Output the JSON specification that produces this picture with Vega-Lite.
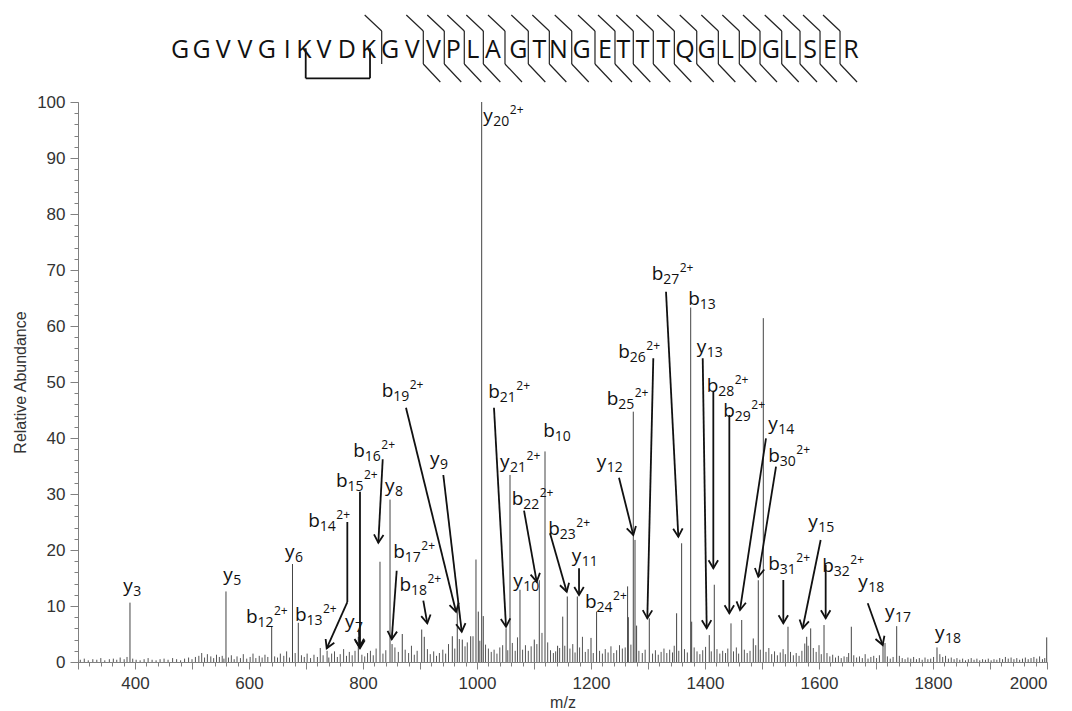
{
"$schema":"https://vega.github.io/schema/vega-lite/v6.json",
"width":969,"height":560,
"autosize":{"type":"none"},
"padding":{"left":78,"top":102,"right":25,"bottom":49},
"background":"white",
"config":{"view":{"stroke":null},"axis":{"grid":false,"domainColor":"#808080","tickColor":"#808080","labelColor":"#333333","labelFont":"Liberation Sans","labelFontSize":17,"titleFont":"Liberation Sans","titleFontSize":16,"titleFontWeight":"normal","titleColor":"#333333"}},
"datasets":{
"noise":[{"m":304,"a":0.4},{"m":311,"a":0.6},{"m":318,"a":0.3},{"m":326,"a":0.5},{"m":333,"a":0.4},{"m":340,"a":0.7},{"m":347,"a":0.3},{"m":355,"a":0.5},{"m":362,"a":0.6},{"m":368,"a":0.4},{"m":374,"a":0.8},{"m":381,"a":0.5},{"m":386,"a":0.9},{"m":396,"a":0.6},{"m":402,"a":0.4},{"m":409,"a":0.3},{"m":416,"a":0.5},{"m":423,"a":0.7},{"m":430,"a":0.4},{"m":437,"a":0.3},{"m":444,"a":0.5},{"m":451,"a":0.6},{"m":458,"a":0.4},{"m":466,"a":0.7},{"m":473,"a":0.5},{"m":480,"a":0.3},{"m":487,"a":0.6},{"m":494,"a":0.8},{"m":500,"a":0.5},{"m":506,"a":0.9},{"m":512,"a":1.1},{"m":517,"a":1.6},{"m":522,"a":0.8},{"m":527,"a":1.4},{"m":533,"a":1.0},{"m":538,"a":0.7},{"m":543,"a":1.3},{"m":548,"a":0.9},{"m":553,"a":1.1},{"m":556,"a":0.6},{"m":564,"a":0.8},{"m":569,"a":1.2},{"m":574,"a":0.5},{"m":579,"a":1.0},{"m":585,"a":0.7},{"m":590,"a":1.4},{"m":596,"a":0.6},{"m":602,"a":0.9},{"m":607,"a":1.5},{"m":612,"a":0.7},{"m":618,"a":1.1},{"m":623,"a":0.8},{"m":628,"a":1.3},{"m":633,"a":0.9},{"m":645,"a":1.0},{"m":650,"a":0.8},{"m":655,"a":1.5},{"m":661,"a":1.1},{"m":666,"a":1.9},{"m":671,"a":0.8},{"m":681,"a":1.6},{"m":692,"a":1.2},{"m":697,"a":0.9},{"m":702,"a":1.5},{"m":708,"a":0.7},{"m":714,"a":1.3},{"m":720,"a":0.9},{"m":725,"a":2.5},{"m":730,"a":1.2},{"m":737,"a":2.0},{"m":740,"a":0.8},{"m":745,"a":1.5},{"m":750,"a":1.9},{"m":755,"a":0.9},{"m":760,"a":1.4},{"m":766,"a":2.3},{"m":771,"a":1.1},{"m":776,"a":1.8},{"m":781,"a":1.2},{"m":786,"a":2.0},{"m":798,"a":1.3},{"m":803,"a":1.0},{"m":808,"a":1.6},{"m":813,"a":2.0},{"m":818,"a":1.2},{"m":823,"a":2.4},{"m":835,"a":1.5},{"m":840,"a":2.1},{"m":856,"a":2.6},{"m":862,"a":1.8},{"m":874,"a":2.2},{"m":880,"a":1.6},{"m":885,"a":2.9},{"m":890,"a":1.3},{"m":895,"a":2.0},{"m":913,"a":2.3},{"m":918,"a":1.4},{"m":924,"a":1.9},{"m":929,"a":1.1},{"m":934,"a":1.6},{"m":940,"a":2.2},{"m":945,"a":1.5},{"m":950,"a":3.2},{"m":961,"a":2.4},{"m":969,"a":4.1},{"m":979,"a":2.8},{"m":983,"a":3.5},{"m":993,"a":4.6},{"m":1005,"a":3.8},{"m":1015,"a":3.1},{"m":1020,"a":2.4},{"m":1025,"a":1.8},{"m":1030,"a":2.2},{"m":1035,"a":1.5},{"m":1040,"a":2.6},{"m":1045,"a":3.0},{"m":1054,"a":2.1},{"m":1062,"a":3.4},{"m":1067,"a":2.0},{"m":1071,"a":4.4},{"m":1080,"a":2.2},{"m":1085,"a":3.0},{"m":1090,"a":2.0},{"m":1095,"a":2.8},{"m":1105,"a":3.2},{"m":1114,"a":5.2},{"m":1124,"a":3.5},{"m":1129,"a":2.1},{"m":1134,"a":1.6},{"m":1138,"a":1.9},{"m":1145,"a":2.5},{"m":1154,"a":2.9},{"m":1163,"a":2.4},{"m":1168,"a":3.2},{"m":1172,"a":1.7},{"m":1180,"a":2.6},{"m":1185,"a":4.5},{"m":1190,"a":1.8},{"m":1195,"a":2.3},{"m":1204,"a":1.6},{"m":1215,"a":2.0},{"m":1220,"a":1.5},{"m":1225,"a":2.3},{"m":1230,"a":1.7},{"m":1235,"a":2.8},{"m":1240,"a":1.6},{"m":1245,"a":2.1},{"m":1250,"a":3.0},{"m":1255,"a":2.4},{"m":1260,"a":2.6},{"m":1270,"a":3.1},{"m":1284,"a":2.0},{"m":1290,"a":1.6},{"m":1295,"a":2.2},{"m":1308,"a":1.5},{"m":1313,"a":2.1},{"m":1318,"a":1.3},{"m":1323,"a":1.8},{"m":1328,"a":2.4},{"m":1333,"a":1.6},{"m":1338,"a":2.2},{"m":1343,"a":1.7},{"m":1346,"a":2.9},{"m":1354,"a":2.0},{"m":1364,"a":2.3},{"m":1369,"a":1.7},{"m":1381,"a":2.6},{"m":1386,"a":1.9},{"m":1391,"a":1.4},{"m":1396,"a":2.1},{"m":1401,"a":2.7},{"m":1411,"a":1.9},{"m":1421,"a":2.3},{"m":1426,"a":1.5},{"m":1431,"a":2.0},{"m":1436,"a":1.6},{"m":1440,"a":2.4},{"m":1450,"a":1.9},{"m":1455,"a":2.6},{"m":1459,"a":1.5},{"m":1469,"a":2.2},{"m":1474,"a":1.6},{"m":1479,"a":2.0},{"m":1489,"a":3.0},{"m":1497,"a":2.2},{"m":1507,"a":1.8},{"m":1512,"a":2.5},{"m":1517,"a":1.4},{"m":1522,"a":1.9},{"m":1527,"a":1.2},{"m":1532,"a":1.7},{"m":1537,"a":2.3},{"m":1541,"a":1.4},{"m":1550,"a":1.8},{"m":1555,"a":1.2},{"m":1560,"a":1.6},{"m":1565,"a":1.1},{"m":1570,"a":2.0},{"m":1575,"a":3.3},{"m":1581,"a":2.9},{"m":1590,"a":2.5},{"m":1595,"a":1.8},{"m":1600,"a":3.0},{"m":1604,"a":1.4},{"m":1614,"a":1.6},{"m":1619,"a":1.0},{"m":1624,"a":1.3},{"m":1629,"a":0.8},{"m":1634,"a":1.1},{"m":1639,"a":0.7},{"m":1644,"a":1.0},{"m":1649,"a":0.9},{"m":1652,"a":1.6},{"m":1661,"a":1.2},{"m":1666,"a":0.8},{"m":1671,"a":1.0},{"m":1676,"a":0.7},{"m":1681,"a":1.4},{"m":1686,"a":0.6},{"m":1691,"a":0.9},{"m":1696,"a":1.1},{"m":1701,"a":0.7},{"m":1706,"a":1.2},{"m":1720,"a":1.0},{"m":1725,"a":0.6},{"m":1730,"a":0.9},{"m":1741,"a":1.1},{"m":1746,"a":0.7},{"m":1751,"a":0.5},{"m":1756,"a":0.8},{"m":1761,"a":0.6},{"m":1766,"a":0.9},{"m":1771,"a":0.5},{"m":1776,"a":0.7},{"m":1781,"a":0.4},{"m":1786,"a":0.8},{"m":1791,"a":0.5},{"m":1796,"a":0.6},{"m":1801,"a":0.9},{"m":1812,"a":1.4},{"m":1817,"a":0.9},{"m":1822,"a":1.1},{"m":1827,"a":0.6},{"m":1832,"a":0.8},{"m":1837,"a":0.5},{"m":1842,"a":0.7},{"m":1847,"a":0.4},{"m":1852,"a":0.6},{"m":1857,"a":0.3},{"m":1862,"a":0.5},{"m":1867,"a":0.7},{"m":1872,"a":0.4},{"m":1877,"a":0.6},{"m":1882,"a":0.3},{"m":1887,"a":0.5},{"m":1892,"a":0.4},{"m":1897,"a":0.6},{"m":1902,"a":0.3},{"m":1907,"a":0.5},{"m":1912,"a":0.4},{"m":1917,"a":0.7},{"m":1922,"a":0.5},{"m":1927,"a":0.9},{"m":1932,"a":0.6},{"m":1937,"a":0.8},{"m":1942,"a":0.5},{"m":1947,"a":0.7},{"m":1952,"a":0.4},{"m":1957,"a":0.6},{"m":1962,"a":0.8},{"m":1967,"a":0.5},{"m":1972,"a":0.7},{"m":1977,"a":0.9},{"m":1982,"a":0.6},{"m":1987,"a":1.0},{"m":1992,"a":0.5},{"m":1996,"a":0.7}],
"peaks":[{"m":391.2,"a":10.6},{"m":559.6,"a":12.6},{"m":639.8,"a":6.3},{"m":676.3,"a":17.5},{"m":686.5,"a":7.0},{"m":791.8,"a":4.5},{"m":829.8,"a":17.9},{"m":847.4,"a":29.0},{"m":851,"a":3.2},{"m":868.9,"a":5.0},{"m":903,"a":5.8},{"m":907.5,"a":4.5},{"m":956.7,"a":4.6},{"m":965.4,"a":9.6},{"m":974.2,"a":4.0},{"m":988.9,"a":4.6},{"m":998.2,"a":18.3},{"m":1002.3,"a":9.0},{"m":1008.2,"a":100},{"m":1011,"a":8.2},{"m":1051,"a":6.0},{"m":1057.9,"a":33.4},{"m":1075.4,"a":12.9},{"m":1100.5,"a":4.0},{"m":1109.3,"a":14.6},{"m":1119.3,"a":37.6},{"m":1141.4,"a":2.9},{"m":1150.4,"a":8.1},{"m":1158.4,"a":11.7},{"m":1176,"a":11.7},{"m":1200,"a":4.3},{"m":1209.8,"a":9.0},{"m":1264.2,"a":13.5},{"m":1265.5,"a":8.0},{"m":1274.2,"a":44.7},{"m":1277.2,"a":21.8},{"m":1280,"a":6.5},{"m":1302.3,"a":7.8},{"m":1350.2,"a":8.7},{"m":1359,"a":21.2},{"m":1374.9,"a":63.3},{"m":1376.6,"a":7.2},{"m":1407.5,"a":4.8},{"m":1416.3,"a":13.8},{"m":1445.6,"a":6.9},{"m":1464.4,"a":7.5},{"m":1484.7,"a":4.2},{"m":1493.5,"a":14.6},{"m":1502.3,"a":61.4},{"m":1545.6,"a":6.3},{"m":1578.4,"a":4.5},{"m":1585.4,"a":6.0},{"m":1608.8,"a":6.6},{"m":1656.7,"a":6.3},{"m":1712.3,"a":3.4},{"m":1715.8,"a":3.4},{"m":1736.3,"a":6.4},{"m":1807,"a":2.6},{"m":1999.5,"a":4.4}],
"labels":[{"t":"y","n":"3","c":"","x":379.5,"y":12.55},{"t":"y","n":"5","c":"","x":554.9,"y":14.52},{"t":"b","n":"12","c":"2+","x":594.7,"y":6.91},{"t":"y","n":"6","c":"","x":663.2,"y":18.57},{"t":"b","n":"13","c":"2+","x":680.7,"y":7.41},{"t":"b","n":"14","c":"2+","x":704.0,"y":24.16},{"t":"b","n":"15","c":"2+","x":752.6,"y":31.3},{"t":"b","n":"16","c":"2+","x":783.0,"y":36.66},{"t":"y","n":"7","c":"","x":768.4,"y":6.16},{"t":"y","n":"8","c":"","x":838.6,"y":30.41},{"t":"b","n":"17","c":"2+","x":853.2,"y":18.52},{"t":"b","n":"18","c":"2+","x":864.0,"y":12.68},{"t":"b","n":"19","c":"2+","x":832.8,"y":47.38},{"t":"y","n":"9","c":"","x":917.6,"y":35.18},{"t":"y","n":"20","c":"2+","x":1011.1,"y":96.5},{"t":"b","n":"21","c":"2+","x":1019.8,"y":47.09},{"t":"y","n":"21","c":"2+","x":1040.4,"y":34.59},{"t":"b","n":"22","c":"2+","x":1060.9,"y":28.04},{"t":"y","n":"10","c":"","x":1063.7,"y":13.45},{"t":"b","n":"10","c":"","x":1116.3,"y":40.23},{"t":"b","n":"23","c":"2+","x":1125.1,"y":22.68},{"t":"y","n":"11","c":"","x":1166.2,"y":17.91},{"t":"b","n":"24","c":"2+","x":1189.5,"y":9.59},{"t":"y","n":"12","c":"","x":1210.0,"y":34.59},{"t":"b","n":"25","c":"2+","x":1227.6,"y":45.89},{"t":"b","n":"26","c":"2+","x":1247.9,"y":54.23},{"t":"b","n":"27","c":"2+","x":1306.5,"y":68.21},{"t":"b","n":"13","c":"","x":1370.7,"y":63.75},{"t":"y","n":"13","c":"","x":1385.5,"y":55.12},{"t":"b","n":"28","c":"2+","x":1403.0,"y":48.27},{"t":"b","n":"29","c":"2+","x":1432.1,"y":43.8},{"t":"y","n":"14","c":"","x":1511.1,"y":41.43},{"t":"b","n":"30","c":"2+","x":1511.1,"y":35.77},{"t":"b","n":"31","c":"2+","x":1511.1,"y":16.43},{"t":"y","n":"15","c":"","x":1581.2,"y":23.87},{"t":"b","n":"32","c":"2+","x":1605.8,"y":16.13},{"t":"y","n":"18","c":"","x":1668.9,"y":13.16},{"t":"y","n":"17","c":"","x":1715.8,"y":7.8},{"t":"y","n":"18","c":"","x":1803.5,"y":4.1}],
"arrows":[{"x":772.5,"y":10.71,"x2":736.3,"y2":2.45},{"x":794.7,"y":30.41,"x2":794.7,"y2":2.45},{"x":834.6,"y":36.2,"x2":826.9,"y2":21.3},{"x":859.1,"y":16.3,"x2":850.4,"y2":4.05},{"x":905.8,"y":10.95,"x2":912.8,"y2":6.91},{"x":875.4,"y":45.41,"x2":963.2,"y2":8.98},{"x":940.9,"y":33.39,"x2":973.2,"y2":5.41},{"x":1029.8,"y":45.41,"x2":1050.9,"y2":6.3},{"x":1082.5,"y":27.02,"x2":1104.7,"y2":14.34},{"x":793,"y":5.71,"x2":793.9,"y2":2.68},{"x":1128.1,"y":22.98,"x2":1157.4,"y2":12.55},{"x":1179.0,"y":16.73,"x2":1179.0,"y2":11.96},{"x":1249.1,"y":32.91,"x2":1274.2,"y2":22.68},{"x":1309.3,"y":54.23,"x2":1298.8,"y2":7.8},{"x":1331.6,"y":66.13,"x2":1353.2,"y2":22.38},{"x":1396.0,"y":54.23,"x2":1403.0,"y2":6.02},{"x":1414.6,"y":48.27,"x2":1414.6,"y2":16.73},{"x":1442.7,"y":44.11,"x2":1442.7,"y2":8.7},{"x":1507.0,"y":39.95,"x2":1461.4,"y2":9.29},{"x":1524.6,"y":34.88,"x2":1493.5,"y2":15.23},{"x":1537.4,"y":14.64,"x2":1537.4,"y2":6.91},{"x":1602.9,"y":21.79,"x2":1571.3,"y2":6.02},{"x":1611.7,"y":17.32,"x2":1611.7,"y2":7.8},{"x":1685.5,"y":10.48,"x2":1711.7,"y2":3.04}],
"lines":[{"x":772.5,"y":25.0,"x2":772.5,"y2":10.71},{"x":699.5,"y":109.59,"x2":699.5,"y2":104.23},{"x":812.3,"y":109.59,"x2":812.3,"y2":104.23},{"x":699.5,"y":104.23,"x2":812.3,"y2":104.23}],
"seq":[{"r":"G","m":478.9},{"r":"G","m":517.0},{"r":"V","m":554.9},{"r":"V","m":593.0},{"r":"G","m":631.1},{"r":"I","m":667.2},{"r":"K","m":696.5},{"r":"V","m":731.6},{"r":"D","m":771.4},{"r":"K","m":809.3},{"r":"G","m":847.4},{"r":"V","m":886.5},{"r":"V","m":923.4},{"r":"P","m":958.4},{"r":"L","m":992.5},{"r":"A","m":1028.1},{"r":"G","m":1072.5},{"r":"T","m":1109.3},{"r":"N","m":1142.7},{"r":"G","m":1183.7},{"r":"E","m":1224.6},{"r":"T","m":1256.7},{"r":"T","m":1290.7},{"r":"T","m":1326.9},{"r":"Q","m":1364.9},{"r":"G","m":1403.0},{"r":"L","m":1439.1},{"r":"D","m":1476.0},{"r":"G","m":1515.3},{"r":"L","m":1549.1},{"r":"S","m":1584.2},{"r":"E","m":1619.3},{"r":"R","m":1656.2}],
"cuts":[{"m":832.8,"k":"top"},{"m":905.8,"k":"full"},{"m":942.6,"k":"full"},{"m":977.7,"k":"full"},{"m":1011.1,"k":"full"},{"m":1049.1,"k":"full"},{"m":1090.0,"k":"full"},{"m":1126.9,"k":"full"},{"m":1166.2,"k":"full"},{"m":1207.0,"k":"full"},{"m":1242.1,"k":"full"},{"m":1274.2,"k":"full"},{"m":1309.3,"k":"full"},{"m":1346.2,"k":"full"},{"m":1385.5,"k":"full"},{"m":1423.4,"k":"full"},{"m":1460.2,"k":"full"},{"m":1496.5,"k":"full"},{"m":1534.6,"k":"full"},{"m":1566.7,"k":"full"},{"m":1601.8,"k":"full"},{"m":1636.9,"k":"full"}]
},
"resolve":{"axis":{"x":"independent","y":"independent"}},
"layer":[
{"data":{"name":"noise"},"transform":[{"calculate":"0","as":"z"}],"mark":{"type":"rule","color":"#555555","strokeWidth":1},
 "encoding":{
  "x":{"field":"m","type":"quantitative","scale":{"domain":[300,2000],"nice":false,"zero":false},"axis":{"orient":"bottom","values":[300,320,340,360,380,400,420,440,460,480,500,520,540,560,580,600,620,640,660,680,700,720,740,760,780,800,820,840,860,880,900,920,940,960,980,1000,1020,1040,1060,1080,1100,1120,1140,1160,1180,1200,1220,1240,1260,1280,1300,1320,1340,1360,1380,1400,1420,1440,1460,1480,1500,1520,1540,1560,1580,1600,1620,1640,1660,1680,1700,1720,1740,1760,1780,1800,1820,1840,1860,1880,1900,1920,1940,1960,1980,2000],"labels":false,"domain":false,"tickSize":4,"title":null}},
  "y":{"field":"a","type":"quantitative","scale":{"domain":[0,100],"nice":false},"axis":{"orient":"left","values":[0,2,4,6,8,10,12,14,16,18,20,22,24,26,28,30,32,34,36,38,40,42,44,46,48,50,52,54,56,58,60,62,64,66,68,70,72,74,76,78,80,82,84,86,88,90,92,94,96,98,100],"labels":false,"domain":false,"tickSize":4,"title":null}},
  "y2":{"field":"z"}}},
{"data":{"name":"peaks"},"transform":[{"calculate":"0","as":"z"}],"mark":{"type":"rule","color":"#444444","strokeWidth":1},
 "encoding":{
  "x":{"field":"m","type":"quantitative","scale":{"domain":[300,2000],"nice":false,"zero":false},"axis":{"orient":"bottom","values":[300,400,500,600,700,800,900,1000,1100,1200,1300,1400,1500,1600,1700,1800,1900,2000],"labelExpr":"datum.value % 200 == 0 ? datum.label : ''","format":"d","labelOverlap":false,"tickSize":7,"labelPadding":6,"title":"m/z","titlePadding":3}},
  "y":{"field":"a","type":"quantitative","scale":{"domain":[0,100],"nice":false},"axis":{"orient":"left","values":[0,10,20,30,40,50,60,70,80,90,100],"tickSize":8,"labelPadding":5,"title":"Relative Abundance","titlePadding":8}},
  "y2":{"field":"z"}}},
{"data":{"name":"lines"},"mark":{"type":"rule","color":"#111111","strokeWidth":1.8},
 "encoding":{
  "x":{"field":"x","type":"quantitative","scale":{"domain":[300,2000],"nice":false,"zero":false},"axis":null},
  "y":{"field":"y","type":"quantitative","scale":{"domain":[0,100],"nice":false},"axis":null},
  "x2":{"field":"x2"},"y2":{"field":"y2"}}},
{"data":{"name":"arrows"},"mark":{"type":"rule","color":"#111111","strokeWidth":1.8},
 "encoding":{
  "x":{"field":"x","type":"quantitative","scale":{"domain":[300,2000],"nice":false,"zero":false},"axis":null},
  "y":{"field":"y","type":"quantitative","scale":{"domain":[0,100],"nice":false},"axis":null},
  "x2":{"field":"x2"},"y2":{"field":"y2"}}},
{"data":{"name":"arrows"},
 "transform":[{"calculate":"atan2(-(datum.x2-datum.x)*0.57,(datum.y-datum.y2)*5.6)*180/PI","as":"ang"}],
 "mark":{"type":"point","shape":"M-1,-1.7L0,0L1,-1.7","filled":false,"stroke":"#111111","strokeWidth":1.8,"size":90,"opacity":1},
 "encoding":{
  "x":{"field":"x2","type":"quantitative","scale":{"domain":[300,2000],"nice":false,"zero":false},"axis":null},
  "y":{"field":"y2","type":"quantitative","scale":{"domain":[0,100],"nice":false},"axis":null},
  "angle":{"field":"ang","type":"quantitative","scale":null}}},
{"data":{"name":"labels"},"mark":{"type":"text","align":"left","baseline":"alphabetic","font":"Open Sans","fontSize":19,"color":"#111111"},
 "encoding":{
  "x":{"field":"x","type":"quantitative","scale":{"domain":[300,2000],"nice":false,"zero":false},"axis":null},
  "y":{"field":"y","type":"quantitative","scale":{"domain":[0,100],"nice":false},"axis":null},
  "text":{"field":"t","type":"nominal"}}},
{"data":{"name":"labels"},"transform":[{"filter":"datum.t == 'b'"}],"mark":{"type":"text","align":"left","baseline":"alphabetic","font":"Open Sans","fontSize":14,"dx":11.5,"dy":4,"color":"#111111"},
 "encoding":{
  "x":{"field":"x","type":"quantitative","scale":{"domain":[300,2000],"nice":false,"zero":false},"axis":null},
  "y":{"field":"y","type":"quantitative","scale":{"domain":[0,100],"nice":false},"axis":null},
  "text":{"field":"n","type":"nominal"}}},
{"data":{"name":"labels"},"transform":[{"filter":"datum.t == 'y'"}],"mark":{"type":"text","align":"left","baseline":"alphabetic","font":"Open Sans","fontSize":14,"dx":10,"dy":4,"color":"#111111"},
 "encoding":{
  "x":{"field":"x","type":"quantitative","scale":{"domain":[300,2000],"nice":false,"zero":false},"axis":null},
  "y":{"field":"y","type":"quantitative","scale":{"domain":[0,100],"nice":false},"axis":null},
  "text":{"field":"n","type":"nominal"}}},
{"data":{"name":"labels"},"transform":[{"filter":"datum.t == 'b' && datum.c != ''"}],"mark":{"type":"text","align":"left","baseline":"alphabetic","font":"Open Sans","fontSize":12,"dx":28,"dy":-8,"color":"#111111"},
 "encoding":{
  "x":{"field":"x","type":"quantitative","scale":{"domain":[300,2000],"nice":false,"zero":false},"axis":null},
  "y":{"field":"y","type":"quantitative","scale":{"domain":[0,100],"nice":false},"axis":null},
  "text":{"field":"c","type":"nominal"}}},
{"data":{"name":"labels"},"transform":[{"filter":"datum.t == 'y' && datum.c != ''"}],"mark":{"type":"text","align":"left","baseline":"alphabetic","font":"Open Sans","fontSize":12,"dx":26.5,"dy":-8,"color":"#111111"},
 "encoding":{
  "x":{"field":"x","type":"quantitative","scale":{"domain":[300,2000],"nice":false,"zero":false},"axis":null},
  "y":{"field":"y","type":"quantitative","scale":{"domain":[0,100],"nice":false},"axis":null},
  "text":{"field":"c","type":"nominal"}}},
{"data":{"name":"seq"},"transform":[{"calculate":"107.8","as":"yy"}],"mark":{"type":"text","align":"center","baseline":"alphabetic","font":"Open Sans","fontSize":25,"color":"#111111"},
 "encoding":{
  "x":{"field":"m","type":"quantitative","scale":{"domain":[300,2000],"nice":false,"zero":false},"axis":null},
  "y":{"field":"yy","type":"quantitative","scale":{"domain":[0,100],"nice":false},"axis":null},
  "text":{"field":"r","type":"nominal"}}},
{"data":{"name":"cuts"},"transform":[{"calculate":"112.68","as":"ya"},{"calculate":"115.54","as":"yb"}],"mark":{"type":"rule","color":"#222222","strokeWidth":1.2,"x2Offset":-17},
 "encoding":{
  "x":{"field":"m","type":"quantitative","scale":{"domain":[300,2000],"nice":false,"zero":false},"axis":null},
  "x2":{"field":"m"},
  "y":{"field":"ya","type":"quantitative","scale":{"domain":[0,100],"nice":false},"axis":null},
  "y2":{"field":"yb"}}},
{"data":{"name":"cuts"},"transform":[{"calculate":"112.68","as":"ya"},{"calculate":"106.79","as":"yb"}],"mark":{"type":"rule","color":"#222222","strokeWidth":1.2},
 "encoding":{
  "x":{"field":"m","type":"quantitative","scale":{"domain":[300,2000],"nice":false,"zero":false},"axis":null},
  "y":{"field":"ya","type":"quantitative","scale":{"domain":[0,100],"nice":false},"axis":null},
  "y2":{"field":"yb"}}},
{"data":{"name":"cuts"},"transform":[{"filter":"datum.k == 'full'"},{"calculate":"106.79","as":"ya"},{"calculate":"103.57","as":"yb"}],"mark":{"type":"rule","color":"#222222","strokeWidth":1.2,"x2Offset":17},
 "encoding":{
  "x":{"field":"m","type":"quantitative","scale":{"domain":[300,2000],"nice":false,"zero":false},"axis":null},
  "x2":{"field":"m"},
  "y":{"field":"ya","type":"quantitative","scale":{"domain":[0,100],"nice":false},"axis":null},
  "y2":{"field":"yb"}}}
]
}
